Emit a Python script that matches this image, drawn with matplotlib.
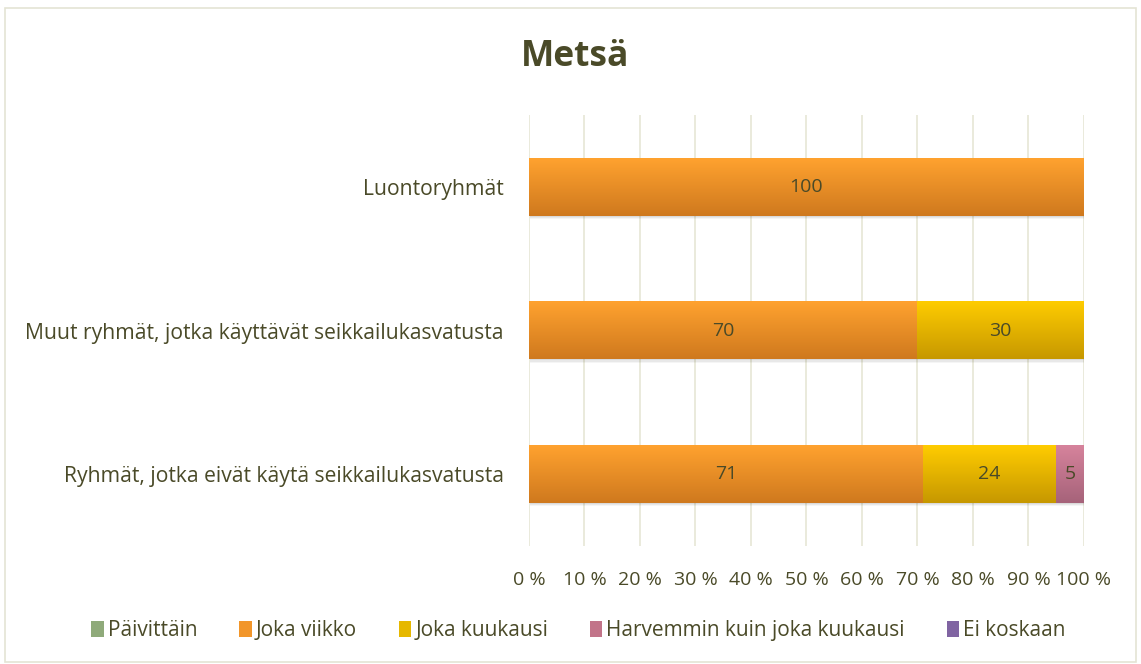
import matplotlib
matplotlib.use("Agg")
import matplotlib.pyplot as plt
from matplotlib.patches import Rectangle
from matplotlib.colors import to_rgb
import numpy as np

categories = ["Ryhmät, jotka eivät käytä seikkailukasvatusta",
              "Muut ryhmät, jotka käyttävät seikkailukasvatusta",
              "Luontoryhmät"]
series = ["Päivittäin", "Joka viikko", "Joka kuukausi",
          "Harvemmin kuin joka kuukausi", "Ei koskaan"]
paivittain = [0, 0, 0]
joka_viikko = [71, 70, 100]
joka_kuukausi = [24, 30, 0]
harvemmin = [5, 0, 0]
ei_koskaan = [0, 0, 0]
ticks = [0, 10, 20, 30, 40, 50, 60, 70, 80, 90, 100]

values = [paivittain, joka_viikko, joka_kuukausi, harvemmin, ei_koskaan]
colors = ["#8FAA7A", "#F2962A", "#E6B800", "#C27489", "#8064A2"]
grad_top = ["#9DB88A", "#FFA22F", "#FFCC00", "#D6839C", "#9478BE"]
grad_bot = ["#758F62", "#CF791E", "#C69800", "#A6637A", "#6A5190"]
txt = "#4A4A28"

plt.rcParams['font.family'] = ['Open Sans', 'DejaVu Sans']
fig = plt.figure(figsize=(11.41, 6.64), dpi=100)
fig.patches.append(Rectangle((0.004, 0.003), 0.992, 0.985, transform=fig.transFigure,
                             fill=False, edgecolor="#E4E4D4", linewidth=1.2))
ax = fig.add_axes([0.4636, 0.1777, 0.4864, 0.6491])

y = np.arange(len(categories))
left = np.zeros(len(categories))
for name, vals, c, ct, cb in zip(series, values, colors, grad_top, grad_bot):
    vals = np.array(vals, dtype=float)
    bars = ax.barh(y, vals, left=left, height=0.4, color=c, label=name, zorder=3)
    t = np.linspace(0, 1, 64)[:, None, None]
    grad = (1 - t) * np.array(to_rgb(ct)) + t * np.array(to_rgb(cb))
    for b, v in zip(bars, vals):
        if v > 0:
            x0, y0 = b.get_x(), b.get_y()
            w, h = b.get_width(), b.get_height()
            # soft shadow
            for k, a in enumerate([0.06, 0.05, 0.04]):
                ax.add_patch(Rectangle((x0 + 0.2, y0 - 0.008 * (k + 1)), w, h,
                                       color="#000000", alpha=a, linewidth=0, zorder=2))
            ax.imshow(grad, extent=[x0, x0 + w, y0, y0 + h], aspect="auto",
                      origin="upper", zorder=3.5, interpolation="bilinear")
            ax.text(x0 + w / 2, y0 + h / 2, f"{int(v)}", ha="center", va="center",
                    color=txt, fontsize=14, zorder=4)
    left += vals

ax.set_xlim(0, 100)
ax.set_ylim(-0.5, 2.5)
ax.set_xticks(ticks)
ax.set_xticklabels([f"{t} %" for t in ticks], color=txt, fontsize=14)
ax.set_yticks(y)
ax.set_yticklabels(categories, color=txt, fontsize=15.2)
ax.tick_params(axis="both", length=0)
ax.tick_params(axis="x", pad=18)
ax.tick_params(axis="y", pad=18)
ax.grid(axis="x", color="#E6E6D6", linewidth=1.2, zorder=0)
for s in ax.spines.values():
    s.set_visible(False)

fig.text(0.504, 0.914, "Metsä", ha="center", va="center", fontsize=25.5,
         fontweight="bold", color=txt)

handles, labels = ax.get_legend_handles_labels()
fig.legend(handles, labels, loc="center", bbox_to_anchor=(0.507, 0.05), ncol=5,
           frameon=False, fontsize=15, labelcolor=txt, handlelength=0.6,
           handleheight=0.75, handletextpad=0.2, columnspacing=2.0)

fig.savefig("out.png", dpi=100)
